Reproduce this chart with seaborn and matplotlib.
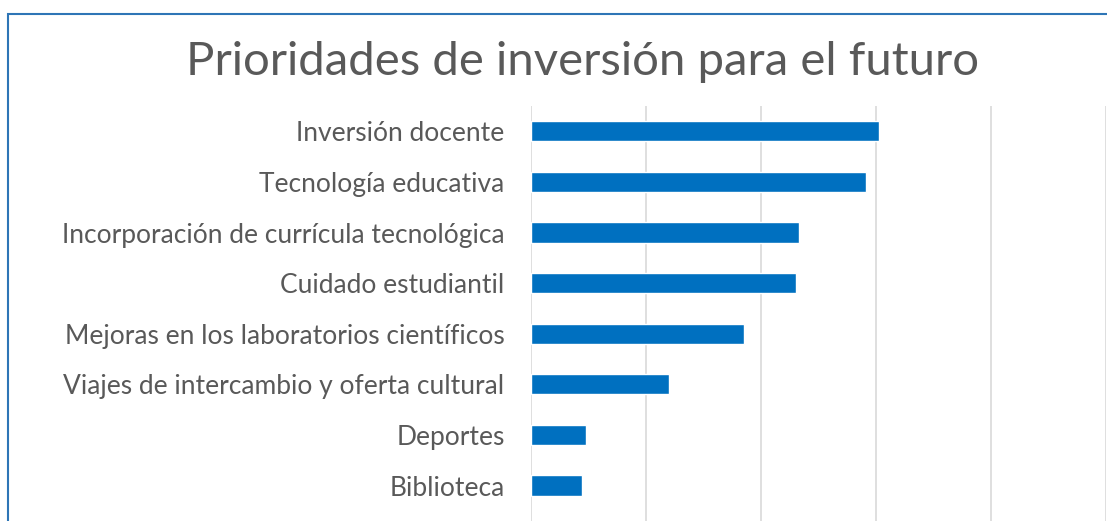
import pandas as pd
import seaborn as sns
import matplotlib.pyplot as plt
from matplotlib.patches import Rectangle

# data (gridline step assumed = 10)
categorias = ['Inversión docente', 'Tecnología educativa',
              'Incorporación de currícula tecnológica', 'Cuidado estudiantil',
              'Mejoras en los laboratorios científicos',
              'Viajes de intercambio y oferta cultural', 'Deportes', 'Biblioteca']
valores = [30.3, 29.1, 23.3, 23.0, 18.5, 12.0, 4.8, 4.4]

df = pd.DataFrame({'categoria': categorias, 'valor': valores})

sns.set_theme(style='white')
plt.rcParams['font.family'] = ['Lato', 'DejaVu Sans']

W, H = 1107, 521
fig = plt.figure(figsize=(W / 100, H / 100), dpi=100)
ax = fig.add_axes([531 / W, 0, (1106 - 531) / W, (H - 106) / H])

sns.barplot(data=df, x='valor', y='categoria', orient='h', color='#0070C0',
            width=0.4, saturation=1, ax=ax)

ax.set_xlim(0, 50)
ax.set_ylim(7.7, -0.5)
ax.set_xticks(range(0, 51, 10))
ax.set_xticklabels([])
ax.tick_params(axis='x', length=0)
ax.tick_params(axis='y', length=0, pad=19, labelsize=19, labelcolor='#595959')
ax.xaxis.grid(True, color='#D9D9D9', linewidth=1.2)
ax.set_axisbelow(True)
for s in ax.spines.values():
    s.set_visible(False)
ax.set_xlabel('')
ax.set_ylabel('')

fig.text(583 / W, 1 - 62 / H, 'Prioridades de inversión para el futuro',
         ha='center', va='center', fontsize=34, color='#595959')

# chart frame (cropped at right and bottom)
fig.patches.append(Rectangle((8 / W, -0.1), 1.2, 1 - 14 / H + 0.1,
                             transform=fig.transFigure, fill=False,
                             edgecolor='#2E75B6', linewidth=1.5))

fig.savefig('out.png', dpi=100)
